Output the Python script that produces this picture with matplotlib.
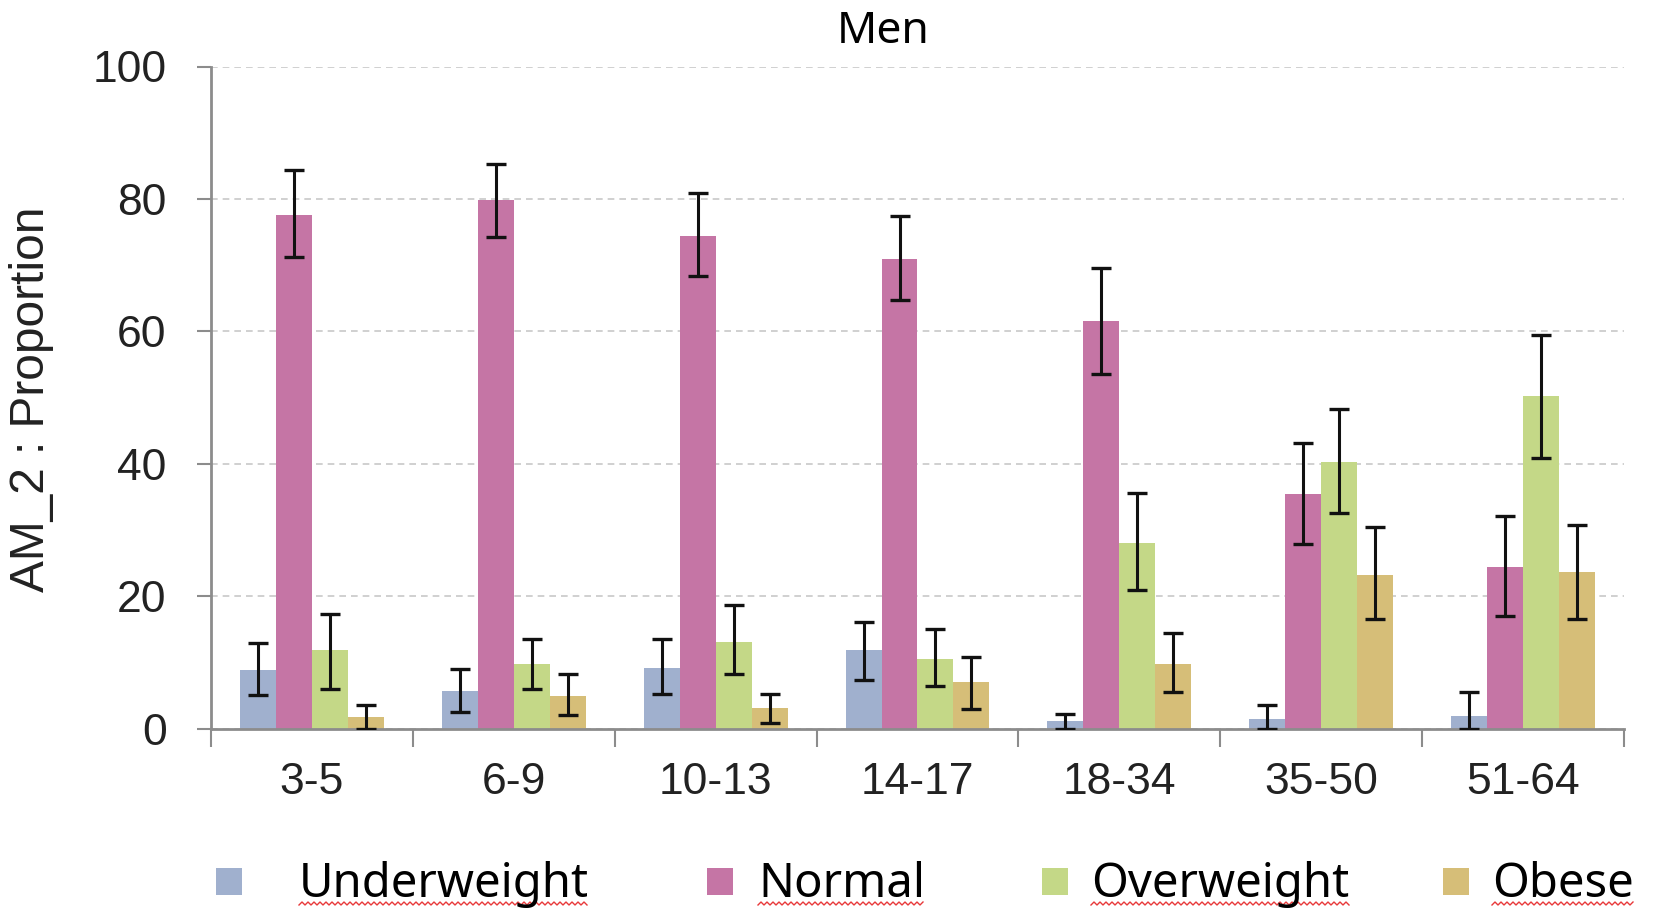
import numpy as np
import matplotlib
matplotlib.use("Agg")
import matplotlib.pyplot as plt
from matplotlib.patches import Rectangle
from matplotlib.lines import Line2D
from matplotlib import font_manager

categories = ["3-5", "6-9", "10-13", "14-17", "18-34", "35-50", "51-64"]
series = ["Underweight", "Normal", "Overweight", "Obese"]

underweight = [8.8, 5.7, 9.2, 11.8, 1.1, 1.5, 1.9]
normal = [77.5, 79.8, 74.4, 70.9, 61.6, 35.4, 24.4]
overweight = [11.8, 9.7, 13.1, 10.5, 28.0, 40.2, 50.2]
obese = [1.8, 4.9, 3.1, 7.0, 9.7, 23.2, 23.6]

underweight_lo = [5.1, 2.5, 5.3, 7.3, 0.0, 0.0, 0.0]
underweight_hi = [12.9, 9.0, 13.5, 16.1, 2.2, 3.5, 5.5]
normal_lo = [71.3, 74.3, 68.3, 64.8, 53.5, 27.9, 17.0]
normal_hi = [84.3, 85.2, 80.9, 77.4, 69.6, 43.1, 32.1]
overweight_lo = [6.0, 6.0, 8.3, 6.5, 20.9, 32.6, 40.9]
overweight_hi = [17.3, 13.5, 18.6, 15.1, 35.6, 48.2, 59.5]
obese_lo = [0.0, 2.1, 0.8, 3.0, 5.6, 16.6, 16.6]
obese_hi = [3.5, 8.2, 5.3, 10.8, 14.4, 30.5, 30.8]

yticks = [0, 20, 40, 60, 80, 100]

values = [underweight, normal, overweight, obese]
lows = [underweight_lo, normal_lo, overweight_lo, obese_lo]
highs = [underweight_hi, normal_hi, overweight_hi, obese_hi]
colors = ["#A0B0CE", "#C575A5", "#C4D887", "#D6BE78"]

names = {f.name for f in font_manager.fontManager.ttflist}
tick_family = "Liberation Sans Narrow" if "Liberation Sans Narrow" in names else "Liberation Sans"
tick_size = 38 if tick_family == "Liberation Sans Narrow" else 32

W, H = 1656, 909
fig = plt.figure(figsize=(W / 100, H / 100), dpi=100)
ax = fig.add_axes([211 / W, 1 - 728.6 / H, (1624 - 211) / W, (728.6 - 66.5) / H])

x = np.arange(len(categories))
bw = 0.178
for i, (vals, lo, hi, col) in enumerate(zip(values, lows, highs, colors)):
    pos = x + (i - 1.5) * bw
    v = np.array(vals)
    ax.bar(pos, v, width=bw, color=col, edgecolor="none", zorder=2, label=series[i])
    yerr = np.vstack([v - np.array(lo), np.array(hi) - v])
    ax.errorbar(pos, v, yerr=yerr, fmt="none", ecolor="#111111", elinewidth=2.2,
                capsize=7.5, capthick=2.4, zorder=3)

ax.set_xlim(-0.5, len(categories) - 0.5)
ax.set_ylim(0, 100)
ax.set_yticks(yticks)
ax.yaxis.grid(True, linestyle=(0, (4, 3)), color="#C8C8C8", linewidth=1.2, zorder=0)
ax.set_axisbelow(True)

ax.set_xticks(x)
ax.set_xticklabels(categories)
ax.set_xticks(np.arange(len(categories) + 1) - 0.5, minor=True)
ax.tick_params(axis="x", which="major", length=0, pad=24)
ax.tick_params(axis="x", which="minor", length=13, width=1.5, color="#8C8C8C", direction="out")
ax.tick_params(axis="y", length=10, width=1.5, color="#8C8C8C", direction="out", pad=22)

for lab in ax.get_xticklabels() + ax.get_yticklabels():
    lab.set_fontfamily(tick_family)
    lab.set_fontsize(tick_size)
    lab.set_color("#222222")

for s in ["top", "right"]:
    ax.spines[s].set_visible(False)
for s in ["left", "bottom"]:
    ax.spines[s].set_color("#8C8C8C")
    ax.spines[s].set_linewidth(2.0)

fig.text(883 / W, 1 - 32 / H, "Men", ha="center", va="center",
         fontsize=32, family="Noto Sans", color="black")
fig.text(32 / W, 1 - 399 / H, "AM_2 : Proportion", ha="center", va="center",
         rotation=90, fontsize=34.5, family="Liberation Sans", color="#222222")

# legend, placed by hand to follow the reference layout
marker_x = [216, 707, 1042, 1443]
text_x = [299, 758, 1091, 1492]
leg_texts = []
for mx, tx, col, name in zip(marker_x, text_x, colors, series):
    fig.add_artist(Rectangle((mx / W, 1 - 895 / H), 26 / W, 27 / H,
                             transform=fig.transFigure, facecolor=col, edgecolor="none"))
    t = fig.text(tx / W, 1 - 897 / H, name, ha="left", va="baseline",
                 fontsize=34, family="Noto Sans", color="black")
    leg_texts.append(t)

fig.canvas.draw()
renderer = fig.canvas.get_renderer()
for t in leg_texts:
    bb = t.get_window_extent(renderer)
    xs = np.arange(bb.x0, bb.x1, 3.0)
    ys = np.where((np.arange(len(xs)) % 2) == 0, 0.0, 3.0) + (H - 905)
    line = Line2D(xs / W, ys / H, transform=fig.transFigure, color="#E8393A", linewidth=1.0)
    fig.add_artist(line)

fig.savefig("out.png", dpi=100)
